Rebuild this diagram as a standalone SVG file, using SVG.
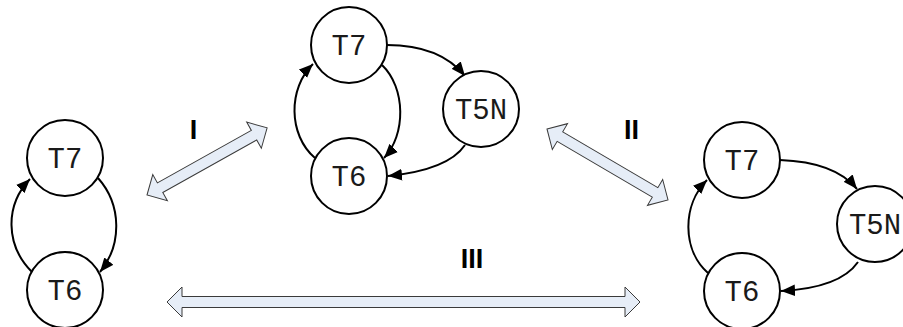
<svg xmlns="http://www.w3.org/2000/svg" width="903" height="327" viewBox="0 0 903 327">
  <style>
    .node circle { fill: #ffffff; stroke: #000000; stroke-width: 2; }
    .node text { font-family: "Liberation Mono", "Courier New", monospace; font-size: 29px; text-anchor: middle; fill: #1a1a1a; }
    .edge { fill: none; stroke: #000000; stroke-width: 2; marker-end: url(#head); }
    .swap { fill: #e6edf7; stroke: #3a3a3a; stroke-width: 1; stroke-linejoin: miter; }
    .label { font-family: "Liberation Sans", Arial, sans-serif; font-weight: bold; font-size: 27px; text-anchor: middle; fill: #000000; }
  </style>
  <defs>
    <marker id="head" markerUnits="userSpaceOnUse" markerWidth="14" markerHeight="12" refX="12" refY="5" orient="auto" viewBox="0 0 12 10">
      <path d="M0,0 L12,5 L0,10 Z" fill="#000000"/>
    </marker>
    <!-- horizontal double arrow, tips at x=0 and x=L (L set per use via path) -->
  </defs>

  <!-- transition arrows between the three graphs -->
  <g id="transitions">
    <g transform="translate(147,195) rotate(-29.2)">
      <path class="swap" d="M0,0 L15,-15 L15,-5.5 L122.6,-5.5 L122.6,-15 L137.6,0 L122.6,15 L122.6,5.5 L15,5.5 L15,15 Z"/>
    </g>
    <g transform="translate(547,129) rotate(30.4)">
      <path class="swap" d="M0,0 L15,-15 L15,-5.5 L125.3,-5.5 L125.3,-15 L140.3,0 L125.3,15 L125.3,5.5 L15,5.5 L15,15 Z"/>
    </g>
    <g transform="translate(167,302)">
      <path class="swap" d="M0,0 L15,-15 L15,-5.5 L458,-5.5 L458,-15 L473,0 L458,15 L458,5.5 L15,5.5 L15,15 Z"/>
    </g>
    <text class="label" x="193.5" y="139">I</text>
    <text class="label" x="631.5" y="139">II</text>
    <text class="label" x="472" y="268">III</text>
  </g>

  <!-- connectors -->
  <g id="connectors">
    <!-- left graph -->
    <path class="edge" d="M32,272 C5,245 5,205 30,179"/>
    <path class="edge" d="M98,178 C122,205 122,245 100,272"/>
    <!-- middle graph -->
    <path class="edge" d="M387,45 Q440,45 465,76"/>
    <path class="edge" d="M382,65 C406,88 406,135 384,158"/>
    <path class="edge" d="M315,158 C288,135 288,88 313,64"/>
    <path class="edge" d="M465,145 Q448,170 388,176"/>
    <!-- right graph -->
    <path class="edge" d="M780,160 Q835,162 857,189"/>
    <path class="edge" d="M858,262 Q840,288 781,291"/>
    <path class="edge" d="M708,273 C682,250 682,205 707,180"/>
  </g>

  <!-- left graph -->
  <g id="left-T7" class="node"><circle cx="65" cy="158" r="38"/><text x="65" y="168">T7</text></g>
  <g id="left-T6" class="node"><circle cx="65" cy="290" r="38"/><text x="65" y="300">T6</text></g>

  <!-- middle graph -->
  <g id="mid-T7" class="node"><circle cx="349" cy="45" r="38"/><text x="349" y="55">T7</text></g>
  <g id="mid-T6" class="node"><circle cx="349" cy="176" r="38"/><text x="349" y="186">T6</text></g>
  <g id="mid-T5N" class="node"><circle cx="481" cy="109" r="38"/><text x="481" y="119">T5N</text></g>

  <!-- right graph -->
  <g id="right-T7" class="node"><circle cx="742" cy="160" r="38"/><text x="742" y="170">T7</text></g>
  <g id="right-T5N" class="node"><circle cx="875" cy="224" r="38"/><text x="875" y="234">T5N</text></g>
  <g id="right-T6" class="node"><circle cx="742" cy="291" r="38"/><text x="742" y="301">T6</text></g>
</svg>
